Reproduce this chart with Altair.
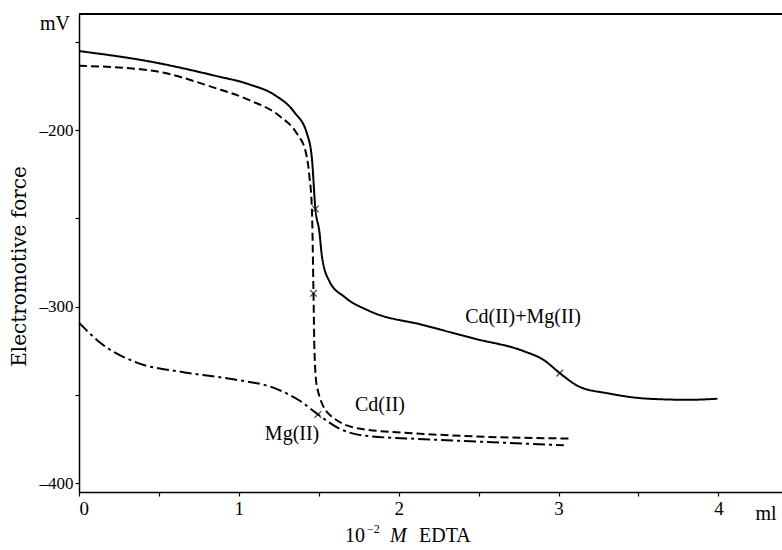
import altair as alt
import pandas as pd

# --- data ---
cdmg_x = [0.0, 0.443, 0.849, 1.067, 1.223, 1.348, 1.426, 1.457, 1.479, 1.504, 1.52, 1.566, 1.66, 1.816, 2.159, 2.471, 2.783, 2.908, 3.008, 3.126, 3.313, 3.563, 3.813, 3.994]
cdmg_y = [-155.3, -161.2, -169.2, -174.2, -180.1, -190.0, -202.0, -216.0, -244.7, -257.7, -271.6, -285.5, -294.4, -302.4, -310.5, -318.0, -325.2, -330.2, -337.6, -345.1, -349.1, -352.1, -352.7, -352.1]

cd_x = [0.0, 0.443, 0.849, 1.067, 1.254, 1.363, 1.417, 1.441, 1.457, 1.467, 1.473, 1.488, 1.566, 1.754, 2.159, 2.627, 3.064]
cd_y = [-163.6, -166.2, -176.1, -183.1, -192.0, -202.0, -211.9, -225.8, -244.7, -292.4, -325.2, -345.1, -361.0, -369.0, -372.0, -373.9, -374.6]

mg_x = [0.0, 0.131, 0.349, 0.661, 0.973, 1.223, 1.379, 1.495, 1.629, 1.785, 2.159, 2.627, 3.033]
mg_y = [-309.0, -320.3, -331.2, -337.2, -341.2, -346.1, -353.1, -361.0, -369.0, -373.0, -375.0, -376.9, -378.5]

series_names = ["Cd(II)+Mg(II)", "Cd(II)", "Mg(II)"]

mark_x = [1.479, 1.467, 3.008, 1.495]
mark_y = [-244.7, -292.4, -337.6, -361.0]

label_text = ["Cd(II)+Mg(II)", "Cd(II)", "Mg(II)"]
label_x = [2.778, 1.883, 1.333]
label_y = [-305.8, -355.6, -372.0]

x_ticks = [0, 0.5, 1, 1.5, 2, 2.5, 3, 3.5, 4]
y_ticks = [-150, -200, -250, -300, -350, -400]

# --- tables ---
rows = []
for name, xs, ys in zip(series_names, [cdmg_x, cd_x, mg_x], [cdmg_y, cd_y, mg_y]):
    for i, (a, b) in enumerate(zip(xs, ys)):
        rows.append({"series": name, "ml": a, "mV": b, "i": i})
lines_df = pd.DataFrame(rows)
marks_df = pd.DataFrame({"ml": mark_x, "mV": mark_y})
labels_df = pd.DataFrame({"t": label_text, "ml": label_x, "mV": label_y})

W, H = 703, 478
SERIF = "Liberation Serif"

xscale = alt.Scale(domain=[0, 4.398], nice=False, zero=False)
yscale = alt.Scale(domain=[-404.9, -134.3], nice=False, zero=False)

base = alt.Chart(lines_df)

lines = base.mark_line(color="black", strokeWidth=2, interpolate="monotone").encode(
    x=alt.X("ml:Q", scale=xscale,
            axis=alt.Axis(values=x_ticks, title=None, grid=False, domainColor="black",
                          domainWidth=1.5, tickColor="black", tickSize=4, tickWidth=1.2,
                          labelFont=SERIF, labelFontSize=19, labelColor="black",
                          labelPadding=3,
                          labelExpr="datum.value % 1 == 0 ? datum.value : ''")),
    y=alt.Y("mV:Q", scale=yscale,
            axis=alt.Axis(values=y_ticks, title="Electromotive force", grid=False,
                          domainColor="black", domainWidth=1.5, tickColor="black",
                          tickSize=4, tickWidth=1.2, labelFont=SERIF, labelFontSize=17,
                          labelColor="black", labelPadding=2,
                          labelExpr="datum.value % 100 == 0 ? '\u2013' + abs(datum.value) : ''",
                          titleFont="DejaVu Serif", titleFontSize=20, titleFontWeight="normal",
                          titleColor="black", titleAngle=270, titleX=-60, titleY=252,
                          titleAlign="center", titleBaseline="middle")),
    strokeDash=alt.StrokeDash("series:N",
                              scale=alt.Scale(domain=series_names,
                                              range=[[1, 0], [8, 4], [12, 4, 3, 4]]),
                              legend=None),
    detail="series:N",
    order="i:Q",
)

xmarks = alt.Chart(marks_df).mark_point(
    shape="M-1,-1L1,1M-1,1L1,-1", size=45, filled=False, color="black", strokeWidth=1.3
).encode(x=alt.X("ml:Q", scale=xscale), y=alt.Y("mV:Q", scale=yscale))

labels = alt.Chart(labels_df).mark_text(
    font=SERIF, fontSize=20, color="black", align="center", baseline="middle"
).encode(x=alt.X("ml:Q", scale=xscale), y=alt.Y("mV:Q", scale=yscale), text="t:N")

top_line = alt.Chart(lines_df).mark_rule(color="black", strokeWidth=1.5).encode(
    x=alt.value(0), x2=alt.value(W), y=alt.value(0)
)

def txt(s, x, y, size=20, style="normal", align="left", baseline="alphabetic"):
    return alt.Chart(pd.DataFrame({"t": [s]})).mark_text(
        font=SERIF, fontSize=size, fontStyle=style, color="black",
        align=align, baseline=baseline
    ).encode(x=alt.value(x), y=alt.value(y), text="t:N")

unit_mv = txt("mV", -9, 10, size=20, align="right", baseline="middle")
unit_ml = txt("ml", 687, 500, size=20, align="center", baseline="middle")
xt1 = txt("10", 286, 528, size=20, align="right")
xt2 = txt("\u22122", 288, 519, size=12, align="left")
xt3 = txt("M", 311, 528, size=20, style="italic", align="left")
xt4 = txt("EDTA", 340, 528, size=20, align="left")

chart = alt.layer(top_line, lines, xmarks, labels, unit_mv, unit_ml, xt1, xt2, xt3, xt4).properties(
    width=W, height=H,
    autosize=alt.AutoSizeParams(type="none"),
    padding={"left": 79, "top": 14, "right": 0, "bottom": 58},
).configure_view(stroke=None).configure(background="white")

chart.save("out.html", embed_options={"renderer": "svg", "actions": False})
